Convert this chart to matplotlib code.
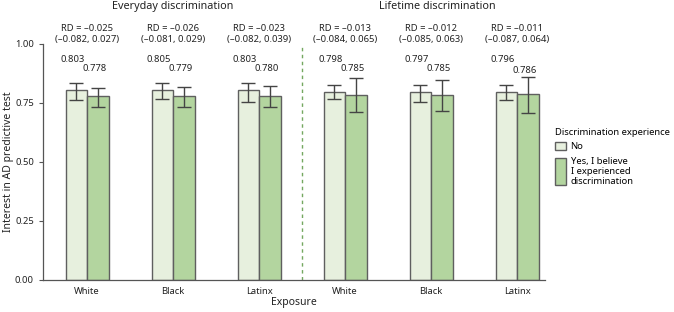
import matplotlib
matplotlib.use("Agg")
import matplotlib.pyplot as plt
import matplotlib.patches as mpatches
from matplotlib.container import BarContainer
from matplotlib.legend_handler import HandlerPatch, update_from_first_child
import numpy as np

plt.rcParams['font.family'] = ['Noto Sans', 'DejaVu Sans']

# data
exposures = ['White', 'Black', 'Latinx', 'White', 'Black', 'Latinx']
panels = ['Everyday discrimination', 'Lifetime discrimination']
series = ['No', 'Yes, I believe\nI experienced\ndiscrimination']

no_vals = [0.803, 0.805, 0.803, 0.798, 0.797, 0.796]
no_lo = [0.763, 0.766, 0.756, 0.766, 0.756, 0.763]
no_hi = [0.836, 0.836, 0.836, 0.825, 0.825, 0.825]

yes_vals = [0.778, 0.779, 0.780, 0.785, 0.785, 0.786]
yes_lo = [0.732, 0.732, 0.732, 0.711, 0.716, 0.706]
yes_hi = [0.812, 0.817, 0.821, 0.855, 0.847, 0.859]

rd = ['–0.025', '–0.026', '–0.023', '–0.013', '–0.012', '–0.011']
rd_ci = ['(–0.082, 0.027)', '(–0.081, 0.029)', '(–0.082, 0.039)',
         '(–0.084, 0.065)', '(–0.085, 0.063)', '(–0.087, 0.064)']

col_no = '#e7f0de'
col_yes = '#b3d59f'
edge = '#5f5f5f'
txt = '#222222'
fs = 6.8


def tall_patch(legend, orig_handle, xdescent, ydescent, width, height, fontsize):
    # 多行标签用更高的色块
    n = orig_handle.get_label().count('\n') + 1
    h = height if n == 1 else n * fontsize * 0.97
    return mpatches.Rectangle((-xdescent, -ydescent + height / 2 - h / 2), width, h)


fig = plt.figure(figsize=(6.74, 3.12), dpi=100)
ax = fig.add_axes([0.0638, 0.1026, 0.745, 0.7564])

x = np.arange(len(exposures))
w = 0.25
err_no = [np.array(no_vals) - np.array(no_lo), np.array(no_hi) - np.array(no_vals)]
err_yes = [np.array(yes_vals) - np.array(yes_lo), np.array(yes_hi) - np.array(yes_vals)]

b1 = ax.bar(x - w / 2, no_vals, w, color=col_no, edgecolor=edge, linewidth=1.0,
            label=series[0], zorder=2)
b2 = ax.bar(x + w / 2, yes_vals, w, color=col_yes, edgecolor=edge, linewidth=1.0,
            label=series[1], zorder=2)
ax.errorbar(x - w / 2, no_vals, yerr=err_no, fmt='none', ecolor='#444444',
            elinewidth=1.0, capsize=5, capthick=1.0, zorder=3)
ax.errorbar(x + w / 2, yes_vals, yerr=err_yes, fmt='none', ecolor='#444444',
            elinewidth=1.0, capsize=5, capthick=1.0, zorder=3)

# 数值标签
for i in range(len(x)):
    ax.text(x[i] - w / 2 - 0.04, 0.935, f'{no_vals[i]:.3f}', ha='center', va='center',
            fontsize=fs, color=txt, clip_on=False)
    ax.text(x[i] + w / 2 - 0.04, 0.897 if i < 5 else 0.887, f'{yes_vals[i]:.3f}',
            ha='center', va='center', fontsize=fs, color=txt, clip_on=False)
    ax.text(x[i], 1.066, f'RD = {rd[i]}', ha='center', va='center',
            fontsize=fs, color=txt, clip_on=False)
    ax.text(x[i], 1.017, rd_ci[i], ha='center', va='center',
            fontsize=fs, color=txt, clip_on=False)

ax.text(1.0, 1.157, panels[0], ha='center', va='center', fontsize=7.8, color=txt, clip_on=False)
ax.text(4.07, 1.157, panels[1], ha='center', va='center', fontsize=7.8, color=txt, clip_on=False)

ax.plot([2.5, 2.5], [0, 1.0], color='#74a860', linestyle=(0, (2.5, 2.5)), linewidth=1.0,
        zorder=1)

ax.set_xlim(-0.512, 5.326)
ax.set_ylim(0, 1.0)
ax.set_xticks(x)
ax.set_xticklabels(exposures)
ax.set_yticks([0, 0.25, 0.5, 0.75, 1.0])
ax.set_yticklabels(['0.00', '0.25', '0.50', '0.75', '1.00'])
ax.tick_params(axis='both', labelsize=fs, colors='#555555', labelcolor=txt, length=3, width=0.8)
ax.tick_params(axis='x', length=0, pad=5)
for s in ['top', 'right']:
    ax.spines[s].set_visible(False)
for s in ['left', 'bottom']:
    ax.spines[s].set_color('#555555')
    ax.spines[s].set_linewidth(0.9)

ax.set_xlabel('Exposure', fontsize=7.5, color=txt, labelpad=1)
ax.set_ylabel('Interest in AD predictive test', fontsize=7.5, color=txt)
ax.yaxis.set_label_coords(-0.058, 0.5)

leg = ax.legend(handles=[b1, b2], title='Discrimination experience', loc='upper left',
                bbox_to_anchor=(1.012, 0.662), frameon=False, fontsize=fs, title_fontsize=fs,
                alignment='left', handlelength=1.2, handleheight=1.05, handletextpad=0.45,
                labelspacing=0.55, borderaxespad=0,
                handler_map={BarContainer: HandlerPatch(patch_func=tall_patch,
                                                        update_func=update_from_first_child)})
for t in leg.get_texts():
    t.set_linespacing(1.15)

fig.savefig('out.png', dpi=100)
